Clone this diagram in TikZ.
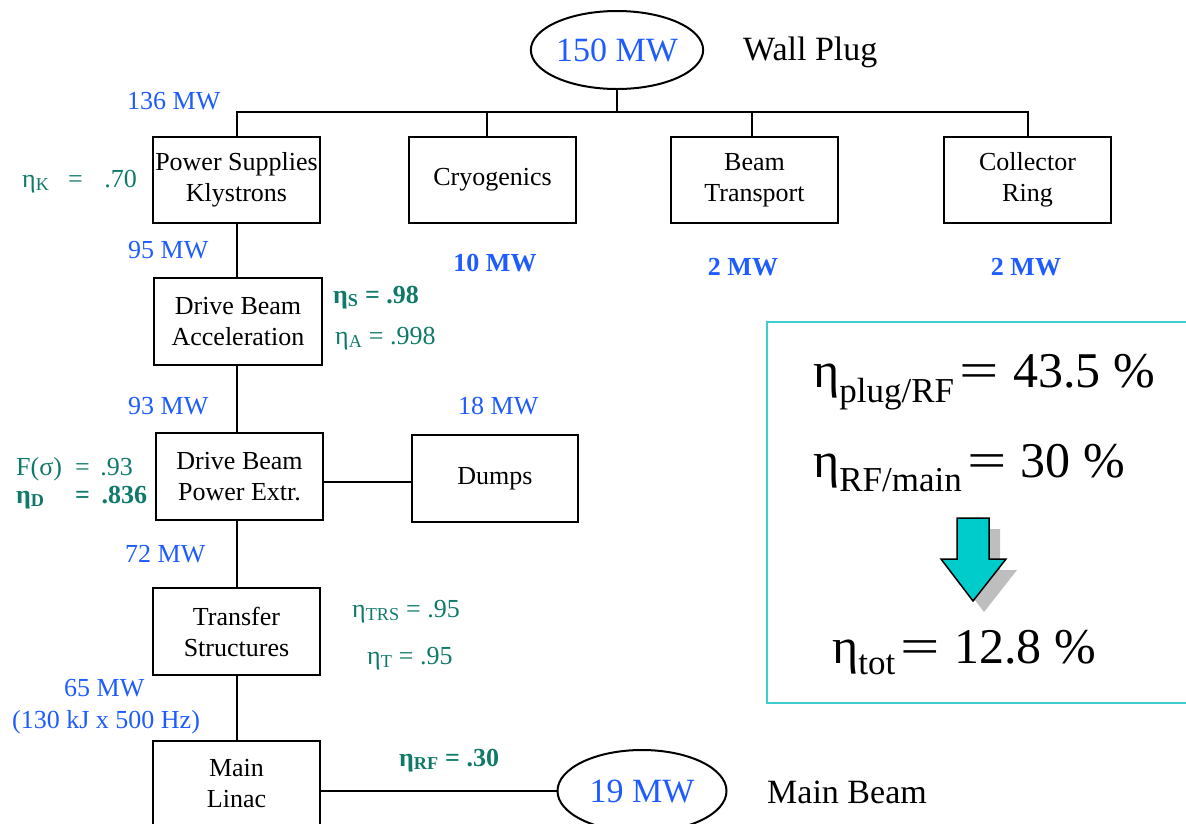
\documentclass[tikz,border=0pt]{standalone}
\usepackage{fontspec}
\setmainfont{Liberation Serif}
\usetikzlibrary{shapes.geometric}
\definecolor{mwblue}{RGB}{31,92,255}
\definecolor{etateal}{RGB}{16,122,106}
\definecolor{boxcyan}{RGB}{60,205,205}
\definecolor{arrowcyan}{RGB}{0,204,204}
\definecolor{shadowgray}{RGB}{190,190,190}
\newcommand\wideeq{\hspace{5pt}\scalebox{1.4}[1]{=}\hspace{14pt}}
\begin{document}
\begin{tikzpicture}[x=1pt,y=-1pt,
  blockbox/.style={draw=black, line width=2pt, minimum width=167pt, minimum height=86pt, inner sep=0pt, align=center, font=\fontsize{26}{31}\selectfont},
  ovalnode/.style={draw=black, ellipse, line width=2pt, minimum width=170pt, minimum height=78pt, inner sep=0pt, text=mwblue, font=\fontsize{34}{40}\selectfont},
  mwlabel/.style={anchor=base west, inner sep=0pt, text=mwblue, font=\fontsize{26}{31}\selectfont},
  mwbold/.style={anchor=base, inner sep=0pt, text=mwblue, font=\fontsize{26}{31}\selectfont\bfseries},
  etalabel/.style={anchor=base west, inner sep=0pt, text=etateal, font=\fontsize{26}{31}\selectfont},
  etabold/.style={etalabel, font=\fontsize{26}{31}\selectfont\bfseries},
  biglabel/.style={anchor=base west, inner sep=0pt, font=\fontsize{50}{60}\selectfont},
  bigtitle/.style={anchor=base west, inner sep=0pt, font=\fontsize{34}{40}\selectfont},
  conn/.style={draw=black, line width=2pt}]
\useasboundingbox (0,0) rectangle (1186,823);

% top
\node[ovalnode] (plug) at (617,50) {150 MW};
\node[bigtitle] (plugtxt) at (743,60) {Wall Plug};
\coordinate (bus) at (617,112);
\node[blockbox] (ps) at (236.5,180) {Power Supplies\\Klystrons};
\node[blockbox] (cryo) at (492.5,180) {Cryogenics};
\node[blockbox] (bt) at (754.5,180) {Beam\\Transport};
\node[blockbox] (cr) at (1027.5,180) {Collector\\Ring};
\draw[conn] (plug.south) -- (bus);
\draw[conn, line cap=rect] (ps.north |- bus) -- (cr.north |- bus);
\draw[conn] (ps.north |- bus) -- (ps.north);
\draw[conn] ([xshift=-6pt]cryo.north |- bus) -- ([xshift=-6pt]cryo.north);
\draw[conn] ([xshift=-3pt]bt.north |- bus) -- ([xshift=-3pt]bt.north);
\draw[conn] (cr.north |- bus) -- (cr.north);

% chain
\node[blockbox, minimum width=168pt, minimum height=87pt] (dba) at (238,321.5) {Drive Beam\\Acceleration};
\node[blockbox, minimum height=87pt] (dbpe) at (239.5,476.5) {Drive Beam\\Power Extr.};
\node[blockbox, minimum width=166pt, minimum height=87pt] (dumps) at (495,478.5) {Dumps};
\node[blockbox, minimum height=87pt] (ts) at (236.5,631.5) {Transfer\\Structures};
\node[blockbox] (ml) at (236.5,784) {Main\\Linac};
\node[ovalnode, minimum width=169pt, minimum height=82pt] (beam) at (642,791) {19 MW};
\node[bigtitle] (beamtxt) at (767,803) {Main Beam};

\coordinate (ax) at (237,0);
\draw[conn] (ps.south -| ax) -- (dba.north -| ax);
\draw[conn] (dba.south -| ax) -- (dbpe.north -| ax);
\draw[conn] (dbpe.south -| ax) -- (ts.north -| ax);
\draw[conn] (ts.south -| ax) -- (ml.north -| ax);
\coordinate (dl) at (0,482);
\draw[conn] (dbpe.east |- dl) -- (dumps.west |- dl);
\draw[conn] (ml.east |- beam.west) -- (beam.west);

% labels
\node[mwlabel] (l136) at (127,109) {136 MW};
\node[etalabel] (etak) at (22,187) {\makebox[46pt][l]{η\textsubscript{K}}=\makebox[54pt][r]{.70}};
\node[mwlabel] (l95) at (128,258) {95 MW};
\node[mwbold] (l10) at (495,271) {10 MW};
\node[mwbold] (l2a) at (743,275) {2 MW};
\node[mwbold] (l2b) at (1026,275) {2 MW};
\node[etabold] (etas) at (333,303) {η\textsubscript{S} = .98};
\node[etalabel] (etaa) at (335,344) {η\textsubscript{A} = .998};
\node[mwlabel] (l93) at (128,414) {93 MW};
\node[mwlabel] (l18) at (458,414) {18 MW};
\node[etalabel] (fsig) at (16,475) {\makebox[59pt][l]{F(σ)}=\makebox[43pt][r]{.93}};
\node[etabold] (etad) at (16,503) {\makebox[59pt][l]{η\textsubscript{D}}=\makebox[57pt][r]{.836}};
\node[mwlabel] (l72) at (125,562) {72 MW};
\node[etalabel] (etatrs) at (352,617) {η\textsubscript{TRS} = .95};
\node[etalabel] (etat) at (367,664) {η\textsubscript{T} = .95};
\node[mwlabel] (l65) at (64,696) {65 MW};
\node[mwlabel] (l130) at (12,728) {(130 kJ x 500 Hz)};
\node[etabold] (etarf) at (399,766) {η\textsubscript{RF} = .30};

% summary box
\draw[boxcyan, line width=2pt] (767,322) rectangle (1200,703);
\node[biglabel] (e1) at (813,387) {η\textsubscript{plug/RF}\wideeq 43.5 \%};
\node[biglabel] (e2) at (813,477) {η\textsubscript{RF/main}\wideeq 30 \%};
\node[biglabel] (e3) at (832,663) {η\textsubscript{tot}\wideeq 12.8 \%};
\fill[shadowgray] (968,529) -- (1000,529) -- (1000,570) -- (1017,570) -- (984,612) -- (952,570) -- (968,570) -- cycle;
\draw[fill=arrowcyan, line width=1.5pt, line join=miter] (957,518) -- (989,518) -- (989,559) -- (1006,559) -- (973,601) -- (941,559) -- (957,559) -- cycle;
\end{tikzpicture}
\end{document}
